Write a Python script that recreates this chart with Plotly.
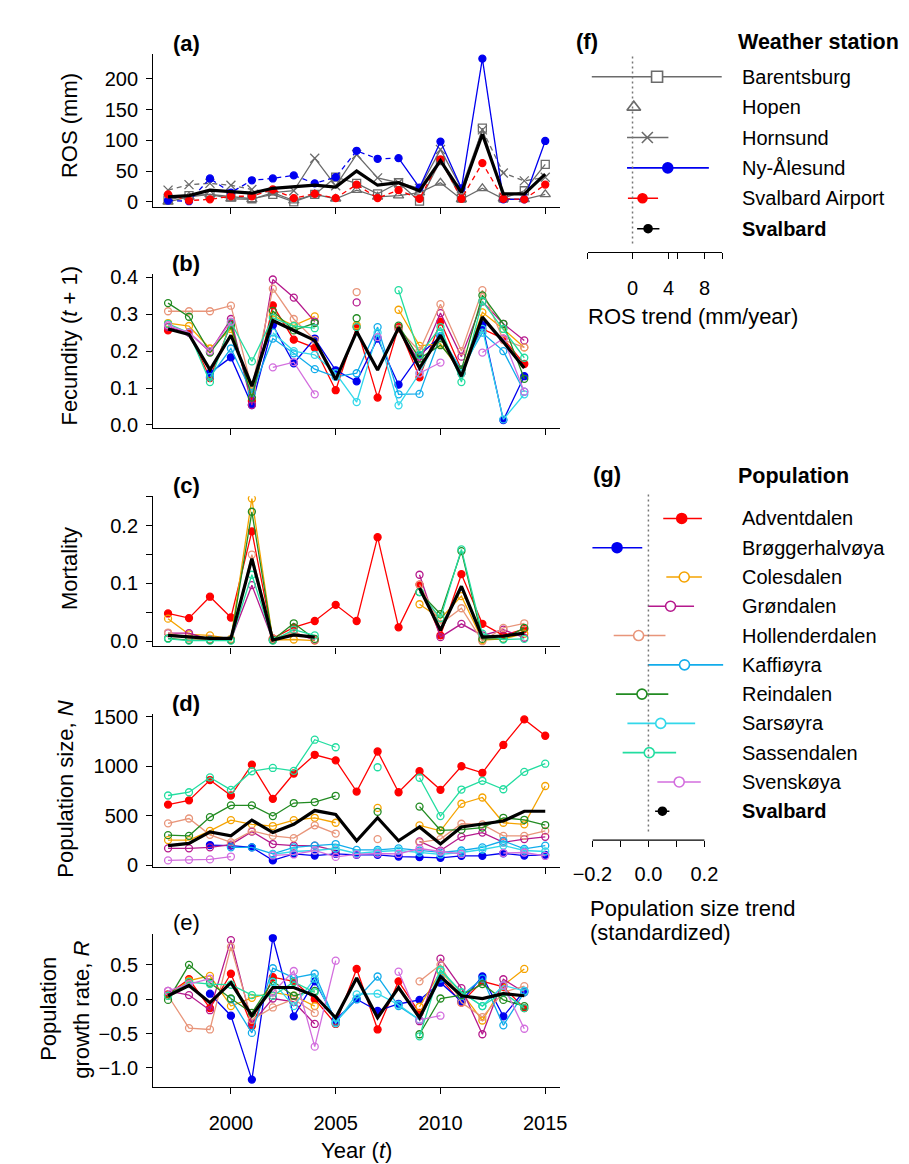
import plotly.graph_objects as go

W, H = 909, 1164
FONT = "Liberation Sans, Arial, sans-serif"

# ---------------- data ----------------
years = list(range(1997, 2016))      # panels (a) and (d)
years_t = list(range(1997, 2015))    # panels (b), (c), (e)

# (a) rain-on-snow (mm) per weather station
ros_barentsburg = [3, 10, 12, 8, 5, 12, 0, 12, 40, 30, 13, 31, 1, 67, 6, 120, 6, 18, 61]
ros_hopen = [0, 8, 12, 5, 4, 15, 2, 12, 5, 19, 8, 10, 15, 31, 4, 22, 5, 4, 12]
ros_hornsund = [19, 28, 30, 27, 20, 15, 18, 71, 26, 77, 39, 31, 22, 85, 22, 117, 47, 34, 40]
ros_nyalesund = [2, 1, 38, 15, 35, 38, 43, 30, 40, 83, 70, 71, 23, 98, 22, 233, 4, 4, 99]
ros_airport = [12, 2, 4, 9, 9, 20, 6, 13, 6, 28, 6, 19, 5, 69, 5, 63, 5, 4, 28]
ros_svalbard = [8, 10, 19, 17, 14, 22, 24, 27, 24, 50, 27, 31, 18, 67, 15, 110, 13, 13, 45]

N_ = None
# (b) fecundity (t+1)
fecundity = {
    "Adventdalen":    [0.256, 0.25, 0.127, 0.274, 0.065, 0.324, 0.231, 0.209, 0.094, 0.265, 0.074, 0.265, 0.129, 0.28, 0.15, 0.26, 0.234, 0.165],
    "Brøggerhalvøya": [N_, N_, 0.141, 0.183, 0.054, 0.27, 0.167, 0.234, 0.148, 0.118, 0.234, 0.109, 0.189, 0.24, 0.14, 0.27, 0.013, 0.132],
    "Colesdalen":     [0.276, 0.268, 0.207, 0.26, 0.09, 0.296, 0.269, 0.294, N_, 0.27, N_, 0.312, 0.214, 0.22, 0.14, 0.305, 0.26, 0.21],
    "Grøndalen":      [0.265, 0.25, 0.198, 0.287, 0.054, 0.394, 0.345, 0.28, N_, 0.332, N_, 0.26, 0.17, 0.303, 0.185, 0.334, 0.274, 0.229],
    "Hollenderdalen": [0.308, 0.308, 0.308, 0.323, 0.1, 0.369, 0.287, 0.23, N_, 0.36, N_, 0.26, 0.2, 0.327, 0.2, 0.365, 0.23, 0.21],
    "Kaffiøyra":      [N_, N_, 0.13, 0.207, 0.087, 0.234, 0.194, 0.151, 0.13, 0.14, 0.265, 0.083, 0.084, 0.24, 0.15, 0.25, 0.2, 0.09],
    "Reindalen":      [0.33, 0.293, 0.196, 0.27, 0.074, 0.309, 0.256, 0.276, N_, 0.289, N_, 0.269, 0.18, 0.216, 0.15, 0.351, 0.274, 0.125],
    "Sarsøyra":       [N_, N_, N_, N_, N_, 0.25, 0.2, 0.19, 0.14, 0.062, 0.25, 0.053, 0.14, 0.25, 0.14, 0.26, 0.015, 0.083],
    "Sassendalen":    [0.274, 0.25, 0.116, 0.278, 0.172, 0.29, 0.268, 0.262, N_, 0.265, N_, 0.365, 0.19, 0.265, 0.116, 0.335, 0.26, 0.182],
    "Svenskøya":      [0.27, 0.25, 0.2, 0.28, N_, 0.156, 0.17, 0.083, N_, N_, 0.238, N_, 0.14, 0.169, N_, 0.196, 0.234, 0.09],
}
fecundity_svalbard = [0.26, 0.245, 0.149, 0.243, 0.105, 0.283, 0.256, 0.229, 0.123, 0.253, 0.149, 0.263, 0.154, 0.243, 0.132, 0.292, 0.225, 0.154]

# (c) mortality
mortality = {
    "Adventdalen":    [0.048, 0.04, 0.077, 0.041, 0.19, 0.005, 0.024, 0.035, 0.063, 0.035, 0.18, 0.024, 0.098, 0.01, 0.116, 0.03, 0.01, 0.021],
    "Colesdalen":     [0.039, 0.012, 0.01, 0.004, 0.247, 0.002, 0.003, 0.001, N_, N_, N_, N_, 0.064, 0.039, 0.078, 0.002, 0.004, 0.013],
    "Grøndalen":      [0.014, 0.014, 0.003, 0.002, 0.097, 0.002, 0.015, 0.002, N_, N_, N_, N_, 0.115, 0.007, 0.03, 0.01, 0.02, 0.006],
    "Hollenderdalen": [0.015, 0.005, 0.003, 0.003, 0.15, 0.005, 0.015, 0.003, N_, N_, N_, N_, 0.098, 0.03, 0.057, 0.0, 0.023, 0.031],
    "Reindalen":      [0.005, 0.002, 0.002, 0.002, 0.224, 0.002, 0.031, 0.004, N_, N_, N_, N_, 0.085, 0.047, 0.156, 0.004, 0.004, 0.023],
    "Sassendalen":    [0.004, 0.001, 0.001, 0.001, 0.115, 0.001, 0.02, 0.01, N_, N_, N_, N_, 0.085, 0.04, 0.159, 0.013, 0.003, 0.004],
}
mortality_svalbard = [0.01, 0.007, 0.005, 0.005, 0.143, 0.002, 0.011, 0.007, N_, N_, N_, N_, 0.092, 0.019, 0.095, 0.007, 0.009, 0.014]

# (d) population size N
popsize = {
    "Adventdalen":    [613, 656, 861, 705, 1016, 672, 927, 1116, 1060, 745, 1149, 738, 950, 762, 1000, 934, 1215, 1473, 1308],
    "Brøggerhalvøya": [N_, N_, 205, 199, 182, 50, 116, 99, 116, 106, 106, 89, 83, 76, 96, 96, 122, 99, 106],
    "Colesdalen":     [255, 255, 348, 457, 414, 397, 457, 480, 430, N_, 580, N_, 404, 348, 622, 685, 430, 414, 801],
    "Grøndalen":      [172, 172, 182, 209, 341, 215, 199, 199, 149, N_, N_, N_, 242, 149, 288, 331, 232, 265, 288],
    "Hollenderdalen": [424, 473, 308, 232, 348, 298, 275, 404, 321, N_, 265, N_, 232, 265, 420, 414, 298, 298, 348],
    "Kaffiøyra":      [N_, N_, N_, 182, 182, 116, 182, 199, 215, 156, 156, 172, 149, 132, 150, 182, 248, 166, 199],
    "Reindalen":      [305, 298, 487, 606, 606, 497, 629, 639, 702, N_, 540, N_, 593, 354, 360, 381, 480, 460, 407],
    "Sarsøyra":       [N_, N_, N_, N_, N_, 110, 140, 150, 170, 120, 140, 150, 130, 110, 130, 160, 200, 150, 140],
    "Sassendalen":    [705, 738, 887, 762, 950, 983, 954, 1268, 1192, N_, 990, N_, 884, 497, 765, 854, 768, 944, 1026],
    "Svenskøya":      [50, 56, 60, 89, N_, 100, 110, 150, 85, 110, 120, 115, 170, 140, 115, N_, 125, 130, 95],
}
popsize_svalbard = [199, 222, 338, 298, 457, 331, 414, 553, 513, 248, 480, 248, 387, 215, 387, 414, 447, 546, 546]

# (e) population growth rate R
growth = {
    "Adventdalen":    [0.07, 0.29, -0.13, 0.37, -0.39, 0.32, 0.26, 0.0, -0.36, 0.44, -0.44, 0.26, -0.2, 0.3, -0.05, 0.26, 0.18, -0.13],
    "Brøggerhalvøya": [N_, N_, 0.08, -0.24, -1.17, 0.89, -0.25, 0.26, -0.3, 0.0, -0.17, -0.07, -0.01, 0.24, -0.03, 0.33, -0.25, 0.12],
    "Colesdalen":     [0.05, 0.27, 0.34, -0.1, 0.02, 0.1, 0.05, -0.1, N_, N_, N_, N_, -0.11, 0.4, 0.1, -0.31, 0.2, 0.44],
    "Grøndalen":      [0.12, 0.06, -0.16, 0.86, -0.35, 0.01, -0.04, -0.36, N_, N_, N_, N_, -0.32, 0.59, 0.16, -0.51, 0.29, 0.1],
    "Hollenderdalen": [0.05, -0.42, -0.44, 0.76, -0.3, -0.12, 0.0, -0.2, N_, N_, N_, N_, 0.26, 0.5, -0.05, -0.26, 0.1, 0.19],
    "Kaffiøyra":      [N_, N_, N_, 0.0, -0.49, 0.45, 0.31, 0.37, -0.33, 0.0, 0.33, -0.1, -0.3, 0.3, 0.05, 0.3, -0.38, 0.1],
    "Reindalen":      [-0.01, 0.5, 0.24, 0.01, -0.2, 0.26, 0.05, 0.12, N_, N_, N_, N_, -0.51, 0.01, 0.06, 0.22, -0.01, -0.1],
    "Sarsøyra":       [N_, N_, N_, N_, N_, 0.25, -0.1, 0.3, -0.35, 0.07, 0.08, -0.08, -0.3, 0.42, 0.1, -0.1, 0.2, 0.12],
    "Sassendalen":    [0.05, 0.25, 0.22, 0.21, 0.06, 0.05, 0.25, 0.1, N_, N_, N_, N_, -0.54, 0.43, 0.1, -0.1, 0.1, -0.13],
    "Svenskøya":      [0.12, 0.22, 0.3, N_, N_, 0.1, 0.41, -0.69, 0.56, N_, N_, 0.4, -0.3, -0.24, N_, N_, 0.2, -0.43],
}
growth_svalbard = [0.05, 0.2, -0.05, 0.24, -0.24, 0.17, 0.17, 0.05, -0.27, 0.31, -0.27, 0.17, -0.27, 0.33, 0.05, 0.01, 0.08, 0.05]

# (f) ROS trend per weather station
stations = ["Barentsburg", "Hopen", "Hornsund", "Ny-Ålesund", "Svalbard Airport", "Svalbard"]
ros_trend = [2.73, 0.14, 1.65, 3.92, 1.11, 1.73]
ros_trend_lo = [-4.53, -0.1, -0.61, -0.61, -0.51, 0.51]
ros_trend_hi = [9.92, 0.4, 3.99, 8.49, 2.84, 2.99]

# (g) population size trend
populations = ["Adventdalen", "Brøggerhalvøya", "Colesdalen", "Grøndalen", "Hollenderdalen",
               "Kaffiøyra", "Reindalen", "Sarsøyra", "Sassendalen", "Svenskøya", "Svalbard"]
pop_trend = [0.119, -0.112, 0.128, 0.079, -0.035, 0.129, -0.023, 0.044, 0.003, 0.110, 0.050]
pop_trend_lo = [0.053, -0.203, 0.064, -0.002, -0.124, -0.002, -0.116, -0.075, -0.092, 0.032, 0.024]
pop_trend_hi = [0.191, -0.022, 0.191, 0.163, 0.061, 0.267, 0.071, 0.167, 0.099, 0.187, 0.075]

# ---------------- styles ----------------
GREY = "#6b6b6b"
POP_COLORS = {
    "Adventdalen": "#FF0000", "Brøggerhalvøya": "#0000F0", "Colesdalen": "#F5A300",
    "Grøndalen": "#B5198D", "Hollenderdalen": "#E8957A", "Kaffiøyra": "#12ACEB",
    "Reindalen": "#228B22", "Sarsøyra": "#33D8EA", "Sassendalen": "#22DDA0",
    "Svenskøya": "#D36EDE", "Svalbard": "#000000",
}
FILLED = {"Adventdalen", "Brøggerhalvøya", "Svalbard"}

fig = go.Figure()


def px(x):
    return x / W


def py(y):
    return 1 - y / H


def ax_names(i):
    s = "" if i == 1 else str(i)
    return "x" + s, "y" + s, "xaxis" + s, "yaxis" + s


def add_line(xs, ys, color, i, width=1.3, dash="solid"):
    xa, ya, _, _ = ax_names(i)
    fig.add_trace(go.Scatter(x=xs, y=ys, mode="lines", xaxis=xa, yaxis=ya,
                             line=dict(color=color, width=width, dash=dash),
                             connectgaps=False, hoverinfo="skip", showlegend=False))


def add_markers(xs, ys, color, i, symbol, size, lw=1.3):
    xa, ya, _, _ = ax_names(i)
    fig.add_trace(go.Scatter(x=xs, y=ys, mode="markers", xaxis=xa, yaxis=ya,
                             marker=dict(symbol=symbol, size=size, color=color,
                                         line=dict(color=color, width=lw)),
                             hoverinfo="skip", showlegend=False))


def segment(xs, ys, y0, y1):
    sx = [x for x in xs if y0 <= x <= y1]
    sy = [ys[xs.index(x)] for x in sx]
    return sx, sy


# ---------- panel (a) ----------
DASH = "5px,4px"
a_series = [
    (ros_barentsburg, GREY, "square-open", 8, [(1997, 2015, "solid")]),
    (ros_hopen, GREY, "triangle-up-open", 9, [(1997, 2015, "solid")]),
    (ros_hornsund, GREY, "x-thin-open", 9, [(1997, 2002, DASH), (2002, 2012, "solid"), (2012, 2015, DASH)]),
    (ros_nyalesund, "#0000F0", "circle", 7, [(1997, 2008, DASH), (2008, 2015, "solid")]),
    (ros_airport, "#FF0000", "circle", 7, [(1997, 2015, DASH)]),
]
for vals, col, sym, sz, segs in a_series:
    for s0, s1, d in segs:
        sx, sy = segment(years, vals, s0, s1)
        add_line(sx, sy, col, 1, dash=d)
    add_markers(years, vals, col, 1, sym, sz)
add_line(years, ros_svalbard, "#000000", 1, width=3.2)


# ---------- panels (b)-(e) ----------
def pop_panel(data, svalbard, xs, i):
    for name, vals in data.items():
        col = POP_COLORS[name]
        add_line(xs, vals, col, i)
        add_markers(xs, vals, col, i, "circle" if name in FILLED else "circle-open", 7)
    add_line(xs, svalbard, "#000000", i, width=3.2)


pop_panel(fecundity, fecundity_svalbard, years_t, 2)
pop_panel(mortality, mortality_svalbard, years_t, 3)
pop_panel(popsize, popsize_svalbard, years, 4)
pop_panel(growth, growth_svalbard, years_t, 5)

# ---------- panel (f) ----------
f_styles = [
    (GREY, "square", 11, "white"),
    (GREY, "triangle-up", 12, "white"),
    (GREY, "x-thin-open", 11, GREY),
    ("#0000F0", "circle", 10, "#0000F0"),
    ("#FF0000", "circle", 9, "#FF0000"),
    ("#000000", "circle", 8, "#000000"),
]
f_rows = list(range(1, len(stations) + 1))
for k, (col, sym, sz, fill) in enumerate(f_styles):
    fig.add_trace(go.Scatter(
        x=[ros_trend[k]], y=[f_rows[k]], mode="markers", xaxis="x6", yaxis="y6",
        error_x=dict(type="data", symmetric=False,
                     array=[ros_trend_hi[k] - ros_trend[k]],
                     arrayminus=[ros_trend[k] - ros_trend_lo[k]],
                     color=col, thickness=1.6, width=0),
        marker=dict(symbol=sym, size=sz, color=fill, line=dict(color=col, width=1.6)),
        hoverinfo="skip", showlegend=False))

# ---------- panel (g) ----------
g_rows = list(range(1, len(populations) + 1))
for k, name in enumerate(populations):
    col = POP_COLORS[name]
    filled = name in FILLED
    fig.add_trace(go.Scatter(
        x=[pop_trend[k]], y=[g_rows[k]], mode="markers", xaxis="x7", yaxis="y7",
        error_x=dict(type="data", symmetric=False,
                     array=[pop_trend_hi[k] - pop_trend[k]],
                     arrayminus=[pop_trend[k] - pop_trend_lo[k]],
                     color=col, thickness=1.6, width=0),
        marker=dict(symbol="circle", size=8 if name == "Svalbard" else 10,
                    color=col if filled else "white", line=dict(color=col, width=1.6)),
        hoverinfo="skip", showlegend=False))

# ---------------- axes ----------------
layout = dict(width=W, height=H, margin=dict(l=0, r=0, t=0, b=0),
              paper_bgcolor="white", plot_bgcolor="white", showlegend=False,
              font=dict(family=FONT, size=20, color="black"))

AXCOMMON = dict(showgrid=False, zeroline=False, showline=True, linecolor="black",
                linewidth=1.3, ticks="outside", ticklen=6, tickwidth=1.3,
                tickcolor="black", tickfont=dict(family=FONT, size=20, color="black"))

left_panels = [
    # i, top px, bottom px, y range, tickvals, ticktext
    (1, 37.3, 192.7, [-8, 241], [0, 50, 100, 150, 200], ["0", "50", "100", "150", "200"]),
    (2, 261.0, 417.7, [-0.009, 0.409], [0, 0.1, 0.2, 0.3, 0.4], ["0.0", "0.1", "0.2", "0.3", "0.4"]),
    (3, 486.7, 639.3, [-0.009, 0.251], [0, 0.05, 0.1, 0.15, 0.2, 0.25], ["0.0", "", "0.1", "", "0.2", ""]),
    (4, 708.3, 863.3, [-16, 1524], [0, 500, 1000, 1500], ["0", "500", "1000", "1500"]),
    (5, 931.7, 1086.3, [-1.27, 0.944], [-1.0, -0.5, 0.0, 0.5], ["\u22121.0", "\u22120.5", "0.0", "0.5"]),
]
for i, top, bot, yr, tv, tt in left_panels:
    xa, ya, xk, yk = ax_names(i)
    layout[xk] = dict(AXCOMMON, domain=[px(129), px(548.2)], range=[1996.29, 2015.70],
                      anchor=ya, tickvals=[2000, 2005, 2010, 2015],
                      ticktext=["2000", "2005", "2010", "2015"],
                      showticklabels=(i == 5), ticklabelstandoff=12)
    layout[yk] = dict(AXCOMMON, domain=[py(bot), py(top)], range=yr, anchor=xa,
                      tickvals=tv, ticktext=tt, ticklabelstandoff=4)

# (f)
f_top, f_bot = 35.0, 238.3
row_f = lambda p: 1 + (p - 60.7) / 30.86
layout["xaxis6"] = dict(AXCOMMON, domain=[px(576.7), px(715.7)], range=[-5, 10], anchor="y6",
                        tickvals=[-5, 0, 4, 5, 8, 10], ticktext=["", "0", "4", "", "8", ""],
                        ticklabelstandoff=12)
layout["yaxis6"] = dict(domain=[py(f_bot), py(f_top)], range=[row_f(f_bot), row_f(f_top)],
                        anchor="x6", visible=False)
# (g)
g_top, g_bot = 480.0, 836.0
row_g = lambda p: 1 + (p - 509.3) / 29.74
g_x0 = 581.7
g_scale = 288.5
layout["xaxis7"] = dict(AXCOMMON, domain=[px(g_x0), px(g_x0 + 0.48 * g_scale)], range=[-0.2, 0.28],
                        anchor="y7", showline=False,
                        tickvals=[-0.2, -0.1, 0.0, 0.1, 0.2], ticktext=["\u22120.2", "", "0.0", "", "0.2"],
                        ticklabelstandoff=10)
layout["yaxis7"] = dict(domain=[py(g_bot), py(g_top)], range=[row_g(g_bot), row_g(g_top)],
                        anchor="x7", visible=False)

shapes = [
    # dotted zero reference lines
    dict(type="line", xref="x6", yref="y6", x0=0, x1=0, y0=row_f(40), y1=row_f(233),
         line=dict(color="#777777", width=1.5, dash="2px,3px")),
    dict(type="line", xref="x7", yref="y7", x0=0, x1=0, y0=row_g(485), y1=row_g(830),
         line=dict(color="#777777", width=1.5, dash="2px,3px")),
    # (g) axis line spanning the tick range only
    dict(type="line", xref="x7", yref="y7 domain", x0=-0.2, x1=0.2, y0=0, y1=0,
         line=dict(color="black", width=1.3)),
]
layout["shapes"] = shapes

# ---------------- text ----------------
ann = []


def text(x, y, s, size=20, anchor="center", angle=0, xref="paper", yref="paper", xv=None, yv=None):
    ann.append(dict(x=px(x) if xv is None else xv, y=py(y) if yv is None else yv,
                    xref=xref, yref=yref, text=s, showarrow=False,
                    xanchor=anchor, yanchor="middle", textangle=angle,
                    font=dict(family=FONT, size=size, color="black")))


# panel letters
text(163, 27, "<b>(a)</b>", 22)
text(163, 250, "<b>(b)</b>", 22)
text(163, 476, "<b>(c)</b>", 22)
text(163, 697, "<b>(d)</b>", 22)
text(163, 920, "(e)", 22)
text(576, 25, "<b>(f)</b>", 22)
text(597, 465, "<b>(g)</b>", 22)

# y-axis titles
text(43, 110, "ROS (mm)", 22, angle=-90)
text(43, 334, "Fecundity (<i>t</i> + 1)", 22, angle=-90)
text(43, 560, "Mortality", 22, angle=-90)
text(39, 784, "Population size, <i>N</i>", 22, angle=-90)
text(21, 1007, "Population", 22, angle=-90)
text(55, 1008, "growth rate, <i>R</i>", 22, angle=-90)
text(339, 1151, "Year (<i>t</i>)", 22)

# (f) labels
text(730, 25, "<b>Weather station</b>", 21.5, anchor="left")
for k, s in enumerate(stations):
    lab = "<b>%s</b>" % s if s == "Svalbard" else s
    text(734, 0, lab, 20, anchor="left", yref="y6", yv=f_rows[k])
text(575, 304, "ROS trend (mm/year)", 22, anchor="left")

# (g) labels
text(730, 466, "<b>Population</b>", 21.5, anchor="left")
for k, s in enumerate(populations):
    lab = "<b>%s</b>" % s if s == "Svalbard" else s
    text(734, 0, lab, 20, anchor="left", yref="y7", yv=g_rows[k])
text(577, 905, "Population size trend", 22, anchor="left")
text(577, 930, "(standardized)", 22, anchor="left")

layout["annotations"] = ann
fig.update_layout(**layout)
fig.write_html("out.html")
